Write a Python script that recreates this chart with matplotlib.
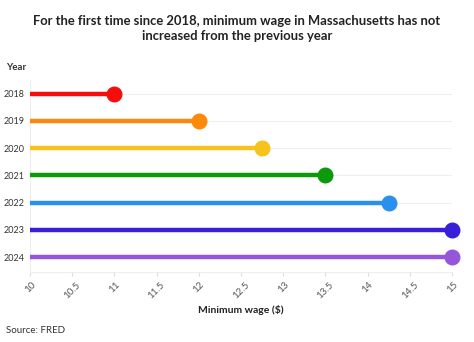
import matplotlib.pyplot as plt

plt.rcParams['font.family'] = ['Lato', 'DejaVu Sans']

years = ["2018", "2019", "2020", "2021", "2022", "2023", "2024"]
wages = [11, 12, 12.75, 13.5, 14.25, 15, 15]
colors = ["#f70c0c", "#fb8a0c", "#f6c21c", "#0c990c", "#2a90ee", "#3a1fd8", "#9656dc"]
xticks = [10, 10.5, 11, 11.5, 12, 12.5, 13, 13.5, 14, 14.5, 15]


def visualize():
    fig = plt.figure(figsize=(4.74, 3.42), dpi=100)
    ax = fig.add_axes([0.0633, 0.2047, 0.8903, 0.5614])

    for i, (w, c) in enumerate(zip(wages, colors)):
        ax.plot([10, w], [i, i], color=c, lw=3.2, solid_capstyle="butt", zorder=3)
        ax.plot(w, i, "o", color=c, markersize=10.5, zorder=4, clip_on=False)

    ax.set_xlim(10, 15)
    ax.set_ylim(6.55, -0.5)
    ax.set_yticks(range(len(years)))
    ax.set_yticklabels(years, fontsize=6.5, color="#333333")
    ax.set_xticks(xticks)
    ax.set_xticklabels([f"{t:g}" for t in xticks], rotation=45, fontsize=7,
                       color="#555555", ha="center", va="top")
    ax.tick_params(axis="y", length=0, pad=4)
    ax.tick_params(axis="x", length=3, color="#dddddd", pad=3)
    ax.grid(axis="y", color="#eeeeee", lw=0.8, zorder=0)
    for side in ["top", "right"]:
        ax.spines[side].set_visible(False)
    ax.spines["left"].set_color("#eeeeee")
    ax.spines["bottom"].set_color("#eeeeee")

    fig.text(0.5, 0.918, "For the first time since 2018, minimum wage in Massachusetts has not\nincreased from the previous year",
             ha="center", va="center", fontsize=9.4, fontweight="bold", color="#222222", linespacing=1.3)
    fig.text(0.013, 0.803, "Year", fontsize=7, fontweight="bold", color="#333333", va="center")
    ax.set_xlabel("Minimum wage ($)", fontsize=7.5, fontweight="bold", color="#222222", labelpad=3)
    fig.text(0.013, 0.035, "Source: FRED", fontsize=7, color="#333333", va="center")

    plt.savefig("out.png", dpi=100)


if __name__ == "__main__":
    visualize()
